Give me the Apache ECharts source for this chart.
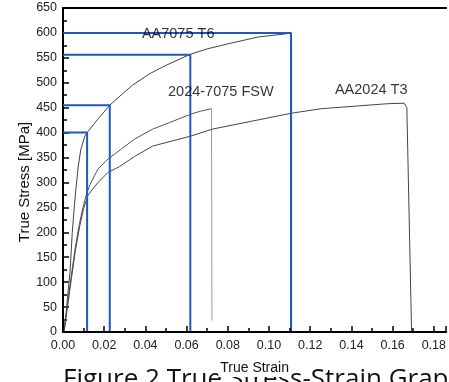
<!DOCTYPE html>
<html>
<head>
<meta charset="utf-8">
<script src="https://cdn.jsdelivr.net/npm/echarts@6/dist/echarts.min.js"></script>
<style>
  html, body { margin: 0; padding: 0; background: #fff; }
  #chart { width: 449px; height: 382px; }
</style>
</head>
<body>
<div id="chart"></div>
<script>
// stress-strain curves, [strain, stress MPa]
const aa7075 = [
  [0.0005, 0], [0.0012, 20], [0.0018, 53], [0.0034, 120], [0.0045, 200],
  [0.0058, 267], [0.0074, 333], [0.0087, 367], [0.0106, 393], [0.0117, 400],
  [0.0169, 427], [0.0227, 455], [0.03, 482], [0.0337, 495], [0.042, 518],
  [0.05, 535], [0.0617, 557], [0.07, 568], [0.082, 580], [0.095, 592],
  [0.108, 598], [0.1107, 600], [0.1107, 0]
];
const fsw = [
  [0.0003, 0], [0.002, 50], [0.004, 112], [0.006, 170], [0.008, 218],
  [0.010, 255], [0.0115, 278], [0.013, 295], [0.017, 327], [0.0218, 347],
  [0.0283, 367], [0.0347, 387], [0.0435, 407], [0.0516, 420], [0.062, 437],
  [0.0668, 443], [0.0721, 448]
];
const fswDrop = [[0.0721, 448], [0.0723, 23]];
const aa2024 = [
  [0.0003, 0], [0.002, 45], [0.004, 105], [0.006, 163], [0.008, 210],
  [0.010, 248], [0.0122, 275], [0.017, 300], [0.0218, 320], [0.0275, 332],
  [0.0347, 352], [0.0435, 373], [0.062, 393], [0.0725, 407], [0.0917, 423],
  [0.111, 439], [0.1254, 448], [0.1415, 453], [0.1576, 458], [0.1656, 459],
  [0.1665, 455], [0.1669, 450], [0.1692, 0]
];

// blue guide lines (yield / ultimate markers)
const guide1 = [[0, 400], [0.0117, 400], [0.0117, 0]];
const guide2 = [[0, 455], [0.0227, 455], [0.0227, 0]];
const guide3 = [[0, 556], [0.0618, 556], [0.0618, 0]];
const guide4 = [[0, 600], [0.1107, 600], [0.1107, 0]];

const labelNames = ['AA7075 T6', '2024-7075 FSW', 'AA2024 T3'];
const labelX = [0.0559, 0.0766, 0.1496];
const labelY = [597, 481, 485];

const chart = echarts.init(document.getElementById('chart'));

const curve = (data, color) => ({
  type: 'line', data: data, symbol: 'none', silent: true,
  lineStyle: { color: color, width: 1 }, z: 2
});
const guide = (data) => ({
  type: 'line', data: data, symbol: 'none', silent: true,
  lineStyle: { color: '#1f57c3', width: 2 }, z: 3
});

chart.setOption({
  animation: false,
  backgroundColor: '#fff',
  grid: { left: 63, top: 8, right: 0, bottom: 49 },
  xAxis: [{
    type: 'value', min: 0, max: 0.186, interval: 0.02,
    name: 'True Strain', nameLocation: 'middle', nameGap: 29,
    nameTextStyle: { color: '#111', fontSize: 14, fontFamily: 'Liberation Sans', backgroundColor: '#fff', padding: [0, 2, 2, 2] },
    axisLine: { lineStyle: { color: '#000', width: 2 } },
    axisTick: { inside: true, length: 6, lineStyle: { color: '#000', width: 1.5 } },
    minorTick: { show: true, splitNumber: 2, length: 4, lineStyle: { color: '#000', width: 1.5 } },
    axisLabel: {
      color: '#222', fontSize: 12.5, fontFamily: 'Liberation Sans', margin: 7,
      showMaxLabel: false,
      formatter: v => v.toFixed(2)
    },
    splitLine: { show: false },
    z: 5
  }, {
    type: 'value', position: 'top', min: 0, max: 0.186,
    axisLine: { lineStyle: { color: '#000', width: 2 } },
    axisTick: { show: false }, axisLabel: { show: false }, splitLine: { show: false }
  }],
  yAxis: {
    type: 'value', min: 0, max: 650, interval: 50,
    name: 'True Stress [MPa]', nameLocation: 'middle', nameGap: 31, nameMoveOverlap: false,
    nameTextStyle: { color: '#111', fontSize: 15, fontFamily: 'Liberation Sans', padding: [0, 24, 0, 0] },
    axisLine: { lineStyle: { color: '#000', width: 2 } },
    axisTick: { inside: true, length: 6, lineStyle: { color: '#000', width: 1.5 } },
    minorTick: { show: true, splitNumber: 2, length: 4, lineStyle: { color: '#000', width: 1.5 } },
    axisLabel: { color: '#222', fontSize: 12.5, fontFamily: 'Liberation Sans', margin: 6 },
    splitLine: { show: false }
  },
  graphic: [{
    type: 'text', left: 63, top: 367, z: -10,
    style: { text: 'Figure 2 True Stress-Strain Graph', fill: '#111', fontSize: 26, fontFamily: 'Open Sans' }
  }],
  series: [
    curve(aa7075, '#444'),
    curve(fsw, '#555'),
    curve(fswDrop, '#999'),
    curve(aa2024, '#444'),
    guide(guide1), guide(guide2), guide(guide3), guide(guide4),
    {
      type: 'scatter', symbolSize: 0, silent: true, z: 4,
      data: labelNames.map((n, i) => [labelX[i], labelY[i], n]),
      label: {
        show: true, position: 'inside', formatter: p => p.data[2],
        color: '#000', fontSize: 14.5, fontFamily: 'Liberation Sans'
      }
    }
  ]
});
</script>
</body>
</html>
